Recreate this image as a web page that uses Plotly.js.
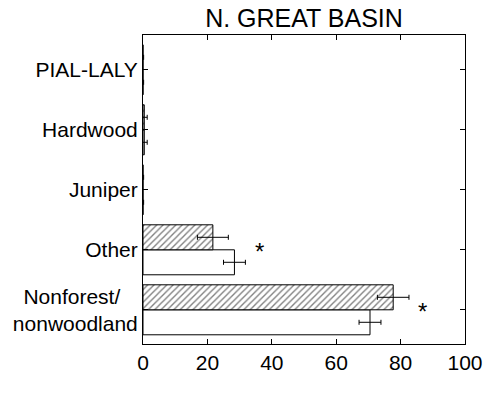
<!DOCTYPE html>
<html>
<head>
<meta charset="utf-8">
<script src="https://cdn.plot.ly/plotly-3.0.1.min.js"></script>
<style>html,body{margin:0;padding:0;background:#fff;}#chart{width:484px;height:393px;}</style>
</head>
<body>
<div id="chart"></div>
<script>
// categories listed bottom to top (plot order)
const categories = ['Nonforest/nonwoodland', 'Other', 'Juniper', 'Hardwood', 'PIAL-LALY'];
const tickLabels = ['Nonforest/\u00a0\u00a0\u00a0<br>nonwoodland', 'Other', 'Juniper', 'Hardwood', 'PIAL-LALY'];
// open (white) bars - lower bar of each pair
const openValues = [70.5, 28.4, 0, 0.4, 0];
const openErrors = [3.4, 3.4, 0.2, 0.9, 0.2];
// hatched bars - upper bar of each pair
const hatchValues = [77.7, 21.7, 0, 0.4, 0];
const hatchErrors = [4.9, 4.8, 0.2, 0.9, 0.2];
// significance markers
const sigCategories = ['Nonforest/nonwoodland', 'Other'];
const sigOffset = 4.3;
const titleText = 'N. GREAT BASIN';
const xTicks = [0, 20, 40, 60, 80, 100];

const font = 'Liberation Sans, Arial, sans-serif';

const traceOpen = {
  type: 'bar', orientation: 'h', y: categories, x: openValues,
  marker: {color: '#ffffff', line: {color: '#000', width: 1}},
  error_x: {type: 'data', array: openErrors, visible: true, color: '#000', thickness: 1, width: 2.5},
  showlegend: false, hoverinfo: 'none'
};
const traceHatch = {
  type: 'bar', orientation: 'h', y: categories, x: hatchValues,
  marker: {color: '#ffffff', line: {color: '#000', width: 1},
    pattern: {shape: '/', fgcolor: '#000', bgcolor: '#fff', size: 4.5, solidity: 0.3, fillmode: 'overlay'}},
  error_x: {type: 'data', array: hatchErrors, visible: true, color: '#000', thickness: 1, width: 2.5},
  showlegend: false, hoverinfo: 'none'
};

const annotations = sigCategories.map(c => {
  const i = categories.indexOf(c);
  const xmax = Math.max(openValues[i] + openErrors[i], hatchValues[i] + hatchErrors[i]);
  return {x: xmax + sigOffset, y: c, xref: 'x', yref: 'y', text: '*', showarrow: false,
    xanchor: 'center', yanchor: 'middle', yshift: -2, font: {family: font, size: 24, color: '#000'}};
});

const layout = {
  width: 484, height: 393,
  margin: {l: 143, r: 19, t: 35, b: 49},
  paper_bgcolor: '#fff', plot_bgcolor: '#fff',
  barmode: 'group', bargap: 0.167, bargroupgap: 0,
  font: {family: font, size: 21, color: '#000'},
  title: {text: titleText, font: {family: font, size: 25, color: '#000'}, x: 0.5, xanchor: 'center', xref: 'paper', y: 1, yref: 'container', yanchor: 'top', pad: {t: 9}},
  xaxis: {range: [0, 100], tickvals: xTicks, ticks: 'inside', ticklen: 5, tickcolor: '#000',
    showline: true, linecolor: '#000', linewidth: 1, mirror: 'ticks', showgrid: false, zeroline: false,
    tickfont: {family: font, size: 21, color: '#000'}},
  yaxis: {type: 'category', range: [-0.57, 4.58], tickvals: categories, ticktext: tickLabels,
    ticks: 'inside', ticklen: 5, tickcolor: '#000',
    showline: true, linecolor: '#000', linewidth: 1, mirror: 'ticks', showgrid: false, zeroline: false,
    tickfont: {family: font, size: 21, color: '#000'}},
  annotations: annotations
};

Plotly.newPlot('chart', [traceOpen, traceHatch], layout, {staticPlot: true, displayModeBar: false});
</script>
</body>
</html>
